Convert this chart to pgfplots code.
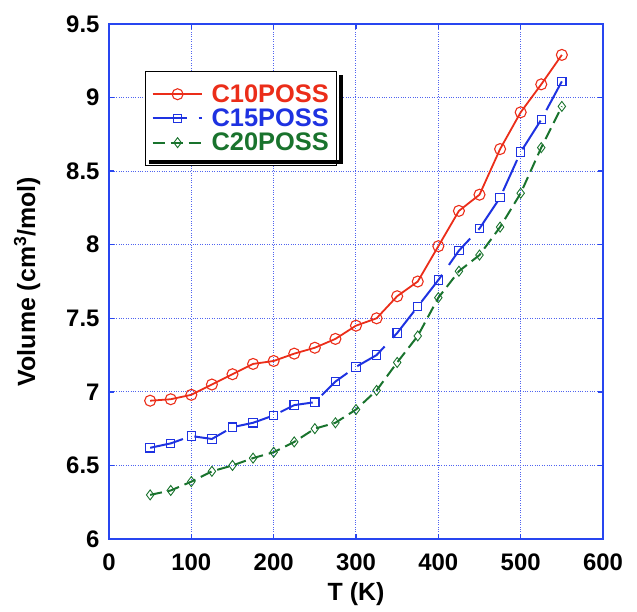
\documentclass[border=0pt]{standalone}
\usepackage{fontspec}
\setmainfont{Liberation Sans}
\usepackage{pgfplots}
\pgfplotsset{compat=1.18}
\definecolor{cred}{RGB}{235,45,25}
\definecolor{cblue}{RGB}{30,50,225}
\definecolor{cgreen}{RGB}{25,115,45}
\definecolor{cgrid}{RGB}{80,100,240}
\definecolor{caxis}{RGB}{40,70,240}
\begin{document}
\begin{tikzpicture}
\begin{axis}[
  scale only axis, width=494bp, height=515bp,
  xmin=0, xmax=600, ymin=6, ymax=9.5,
  xtick={0,100,200,300,400,500,600},
  ytick={6,6.5,7,7.5,8,8.5,9,9.5},
  grid=major, major grid style={cgrid, dotted, line width=1pt},
  axis line style={caxis, line width=2pt},
  tick style={caxis, line width=1.5pt}, tick align=inside, major tick length=5bp,
  /pgf/number format/assume math mode=true,
  tick label style={font=\fontsize{24}{24}\selectfont\bfseries},
  xticklabel style={yshift=-11bp},
  yticklabel style={xshift=-6bp},
  label style={font=\fontsize{25}{25}\selectfont\bfseries},
  xlabel={T (K)}, ylabel={Volume (cm\textsuperscript{3}/mol)},
  xlabel style={yshift=-5bp},
  ylabel style={yshift=19bp},
  clip=false,
  legend style={at={(rel axis cs:0.0729,0.9087)}, anchor=north west,
    draw=black, line width=1.2pt, fill=white,
    font=\fontsize{25.5}{25.5}\selectfont\bfseries, cells={anchor=west},
    row sep=1bp, inner xsep=6bp, inner ysep=11bp,
    nodes={inner ysep=2bp},
    /tikz/every odd column/.append style={column sep=7bp}},
  legend image code/.code={\draw[mark repeat=2,mark phase=2,#1] plot coordinates {(0bp,0bp) (25bp,0bp) (49bp,0bp)};},
]
\addplot[cred, line width=1.8pt, mark=o, mark size=5.5bp, mark options={solid, line width=1.1pt}] coordinates {
(50,6.94) (75,6.95) (100,6.98) (125,7.05) (150,7.12) (175,7.19) (200,7.21) (225,7.26) (250,7.30) (275,7.36) (300,7.45) (325,7.50) (350,7.65) (375,7.75) (400,7.99) (425,8.23) (450,8.34) (475,8.65) (500,8.90) (525,9.09) (550,9.29)};
\addlegendentry{\textcolor{cred}{C10POSS}}
\addplot[cblue, line width=2pt, dash pattern=on 34bp off 12bp, mark=square, mark size=4.2bp, mark options={solid, line width=1.1pt}] coordinates {
(50,6.62) (75,6.65) (100,6.70) (125,6.68) (150,6.76) (175,6.79) (200,6.84) (225,6.91) (250,6.93) (275,7.07) (300,7.17) (325,7.25) (350,7.40) (375,7.58) (400,7.76) (425,7.96) (450,8.11) (475,8.32) (500,8.63) (525,8.85) (550,9.11)};
\addlegendentry{\textcolor{cblue}{C15POSS}}
\addplot[cgreen, line width=2pt, dash pattern=on 12bp off 6bp, mark=diamond, mark size=5bp, mark options={solid, line width=0.9pt}] coordinates {
(50,6.30) (75,6.33) (100,6.39) (125,6.46) (150,6.50) (175,6.55) (200,6.59) (225,6.66) (250,6.75) (275,6.79) (300,6.88) (325,7.01) (350,7.20) (375,7.38) (400,7.64) (425,7.82) (450,7.93) (475,8.12) (500,8.35) (525,8.66) (550,8.94)};
\addlegendentry{\textcolor{cgreen}{C20POSS}}
\coordinate (R1) at (rel axis cs:0.4646,0.9010);
\coordinate (R2) at (rel axis cs:0.4727,0.7272);
\coordinate (B1) at (rel axis cs:0.0810,0.7359);
\path (rel axis cs:-0.2206,-0.1398) rectangle (rel axis cs:1.0688,1.0466);
\end{axis}
\fill[black] (R1) rectangle (R2);
\fill[black] (B1) rectangle (R2);
\end{tikzpicture}
\end{document}
